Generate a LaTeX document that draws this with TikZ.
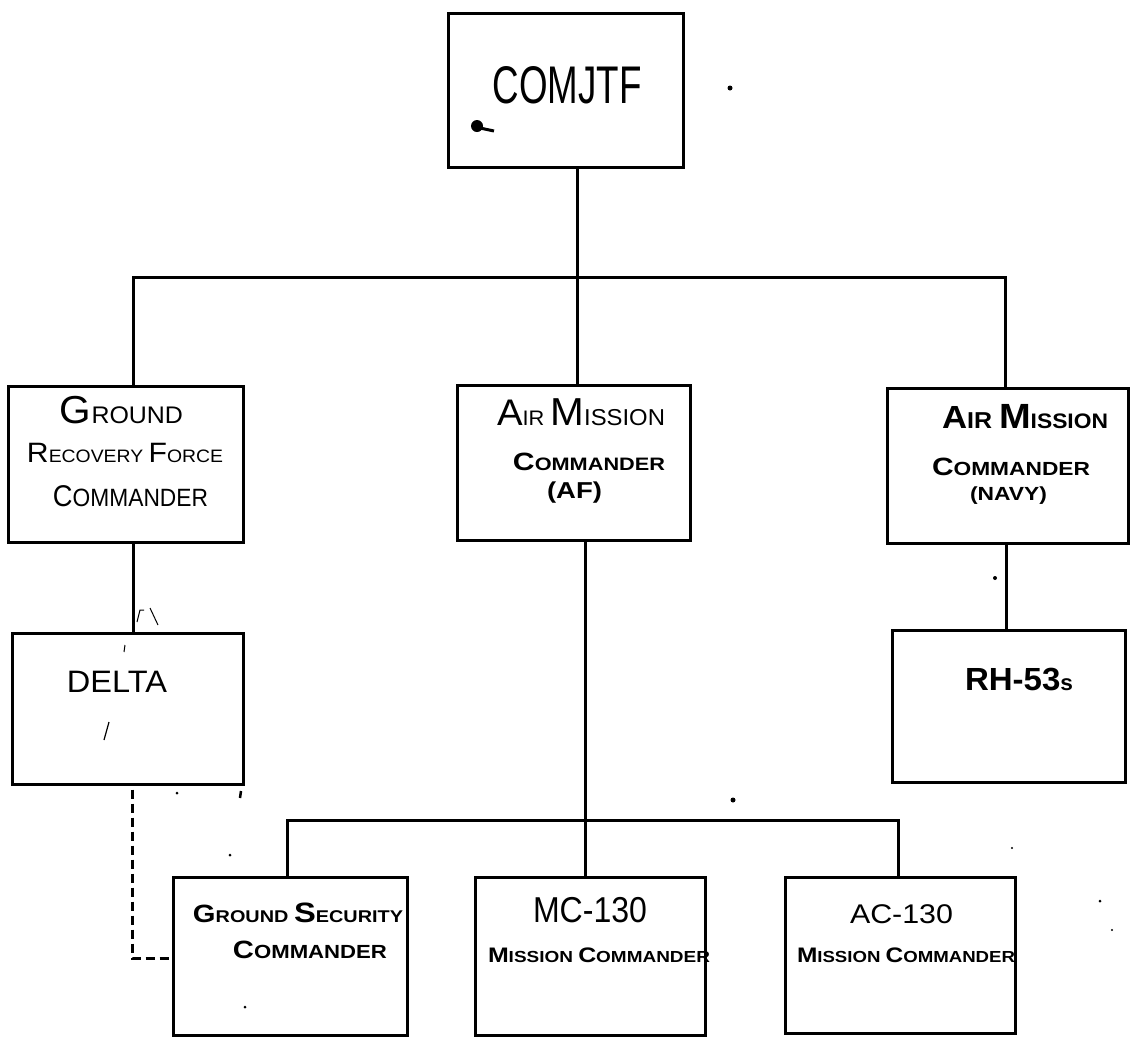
\documentclass[tikz,border=0pt]{standalone}
\usepackage{fontspec}
\setmainfont{Liberation Sans}
\usepackage{graphicx}
\newcommand\fw[2]{\resizebox{#1pt}{\height}{#2}}
\newcommand\fs[1]{\fontsize{#1}{#1}\selectfont}
\begin{document}
\begin{tikzpicture}[x=1pt,y=-1pt,
  box/.style={draw,line width=3pt,inner sep=0pt},
  link/.style={line width=3pt},
  dlink/.style={line width=3pt,dash pattern=on 9pt off 5pt},
  txt/.style={anchor=base,inner sep=0pt},
  speck/.style={fill=black}]
\useasboundingbox (0,0) rectangle (1130,1037);
% boxes
\node[box,minimum width=235pt,minimum height=154pt] (comjtf) at (565.5,90) {};
\node[box,minimum width=235pt,minimum height=156pt] (grf) at (125.5,464) {};
\node[box,minimum width=233pt,minimum height=155pt] (amaf) at (573.5,462.5) {};
\node[box,minimum width=241pt,minimum height=155pt] (amn) at (1007.5,465.5) {};
\node[box,minimum width=231pt,minimum height=151pt] (delta) at (127.5,708.5) {};
\node[box,minimum width=233pt,minimum height=152pt] (rh) at (1008.5,706) {};
\node[box,minimum width=234pt,minimum height=158pt] (gs) at (290,956) {};
\node[box,minimum width=230pt,minimum height=158pt] (mc) at (590,956) {};
\node[box,minimum width=230pt,minimum height=156pt] (ac) at (900,955) {};
% texts
\node[txt] (tcom) at (567,103) {\fw{149}{\fs{53}COMJTF}};
\node[txt] (tg1) at (121.5,423) {\fw{123}{\fs{39}G\fs{24}ROUND}};
\node[txt] (tg2) at (125,462) {\fw{196}{\fs{28}R\fs{18}ECOVERY \fs{28}F\fs{18}ORCE}};
\node[txt] (tg3) at (130.5,506) {\fw{155}{\fs{30}C\fs{25}OMMANDER}};
\node[txt] (ta1) at (581,425) {\fw{168}{\fs{37}A\fs{21}IR \fs{39}M\fs{23}ISSION}};
\node[txt] (ta2) at (589,470) {\fw{152}{\bfseries\fs{25}C\fs{18}OMMANDER}};
\node[txt] (ta3) at (574.5,498) {\fw{55}{\bfseries\fs{23}(AF)}};
\node[txt] (tn1) at (1025,428) {\fw{166}{\bfseries\fs{32}A\fs{23}IR \fs{35}M\fs{21}ISSION}};
\node[txt] (tn2) at (1011,475) {\fw{158}{\bfseries\fs{25}C\fs{19}OMMANDER}};
\node[txt] (tn3) at (1008.5,500) {\fw{77}{\bfseries\fs{19}(NAVY)}};
\node[txt] (td) at (117,692) {\fw{100}{\fs{31}DELTA}};
\node[txt] (tr) at (1019,690) {\fw{108}{\bfseries\fs{32}RH-53\fs{22}s}};
\node[txt] (ts1) at (298,922) {\fw{210}{\bfseries\fs{25}G\fs{17}ROUND \fs{28}S\fs{17}ECURITY}};
\node[txt] (ts2) at (310,958) {\fw{154}{\bfseries\fs{25}C\fs{19}OMMANDER}};
\node[txt] (tm1) at (590,922) {\fw{114}{\fs{36}MC-130}};
\node[txt] (tm2) at (599,962) {\fw{222}{\bfseries\fs{21}M\fs{16}ISSION \fs{21}C\fs{16}OMMANDER}};
\node[txt] (tac1) at (901.5,923) {\fw{103}{\fs{27}AC-130}};
\node[txt] (tac2) at (906,962) {\fw{218}{\bfseries\fs{21}M\fs{16}ISSION \fs{21}C\fs{16}OMMANDER}};
% bus coordinates
\coordinate (b0) at (577,277);
\coordinate (b1) at (133,277);
\coordinate (b3) at (1005,277);
\coordinate (r1) at (1006,0);
\coordinate (l0) at (585,820);
\coordinate (l1) at (287,820);
\coordinate (l3) at (898,820);
\coordinate (dz) at (132,958);
% connectors
\draw[link] (comjtf.south -| b0) -- (b0);
\draw[link] (b1 |- grf.north) -- (b1) -- (b3) -- (b3 |- amn.north);
\draw[link] (b0) -- (b0 |- amaf.north);
\draw[link] (grf.south -| b1) -- (delta.north -| b1);
\draw[link] (amn.south -| r1) -- (rh.north -| r1);
\draw[link] (amaf.south -| l0) -- (l0);
\draw[link] (l1 |- gs.north) -- (l1) -- (l3) -- (l3 |- ac.north);
\draw[link] (l0) -- (l0 |- mc.north);
\draw[dlink] ([yshift=-4pt]delta.south -| dz) -- (dz) -- (dz -| gs.west);
% specks of the scan
\fill[speck] (477,126) circle (6pt);
\draw[line width=3pt] (480,128) -- (494,131);
\fill[speck] (730,88) circle (2.5pt);
\draw[line width=1pt] (137,622) -- (140,610) -- (144,610);
\draw[line width=1pt] (150,608) -- (158,625);
\draw[line width=1pt] (125,645) -- (124,652);
\draw[line width=1.2pt] (104,740) -- (109,722);
\fill[speck] (177,793) circle (1.5pt);
\draw[line width=2.5pt] (240,798) -- (241,791);
\fill[speck] (230,855) circle (1.5pt);
\fill[speck] (245,1007) circle (1.5pt);
\fill[speck] (733,800) circle (2.5pt);
\fill[speck] (1012,848) circle (1.2pt);
\fill[speck] (1100,901) circle (1.5pt);
\fill[speck] (1112,930) circle (1.2pt);
\fill[speck] (995,578) circle (2pt);
\end{tikzpicture}
\end{document}
